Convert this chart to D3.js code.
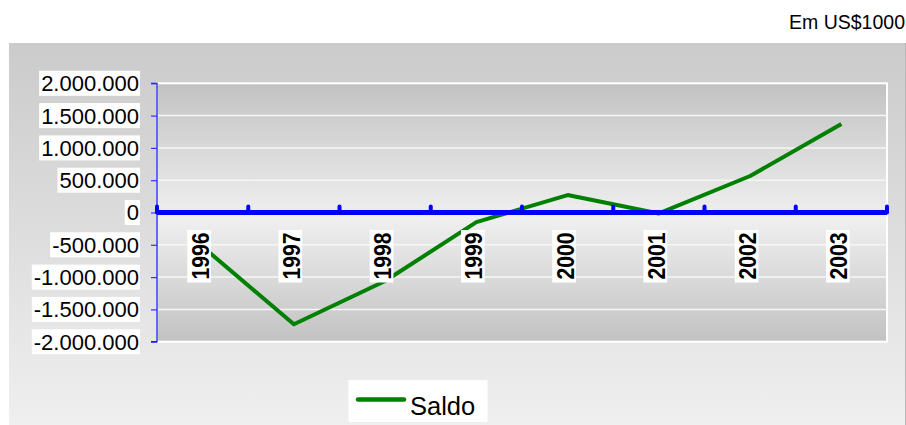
<!DOCTYPE html>
<html><head><meta charset="utf-8">
<script src="https://cdn.jsdelivr.net/npm/d3@7"></script>
<style>
html,body{margin:0;padding:0;background:#fff;}
svg{display:block;font-family:"Liberation Sans",Arial,sans-serif;}
</style></head>
<body><svg id="c" width="906" height="425"></svg>
<script>
const categories = ["1996","1997","1998","1999","2000","2001","2002","2003"];
const saldo = [-530000, -1730000, -1060000, -150000, 270000, -15000, 565000, 1370000];
const yTicks = [2000000, 1500000, 1000000, 500000, 0, -500000, -1000000, -1500000, -2000000];
const seriesName = "Saldo";
const unitNote = "Em US$1000";

const svg = d3.select("#c");
const defs = svg.append("defs");
const g1 = defs.append("linearGradient").attr("id","outerG").attr("x1",0).attr("y1",0).attr("x2",0).attr("y2",1);
g1.append("stop").attr("offset","0%").attr("stop-color","#cbcbcb");
g1.append("stop").attr("offset","100%").attr("stop-color","#f0f0f0");
const g2 = defs.append("linearGradient").attr("id","plotG").attr("x1",0).attr("y1",0).attr("x2",0).attr("y2",1);
g2.append("stop").attr("offset","0%").attr("stop-color","#c2c2c2");
g2.append("stop").attr("offset","52%").attr("stop-color","#f0f0f0");
g2.append("stop").attr("offset","100%").attr("stop-color","#c2c2c2");

// unit note
svg.append("text").attr("x",905).attr("y",29).attr("text-anchor","end")
  .attr("font-size",19.5).attr("fill","#000").text(unitNote);

// outer chart area
svg.append("rect").attr("x",9).attr("y",43).attr("width",897).attr("height",390).attr("fill","url(#outerG)");
svg.append("line").attr("x1",905.5).attr("x2",905.5).attr("y1",43).attr("y2",425).attr("stroke","#b8b8b8").attr("stroke-width",1);

const L = 157, R = 887, T = 83.3, B = 341.7;
const x = d3.scaleBand().domain(categories).range([L,R]).padding(0);
const y = d3.scaleLinear().domain([-2000000,2000000]).range([B,T]);

// plot area
svg.append("rect").attr("x",L).attr("y",T).attr("width",R-L).attr("height",B-T)
  .attr("fill","url(#plotG)").attr("stroke","#ffffff").attr("stroke-width",2);

// gridlines
svg.append("g").selectAll("line").data(yTicks.filter(d=>d!==2000000 && d!==-2000000 && d!==0)).join("line")
  .attr("x1",L).attr("x2",R).attr("y1",d=>y(d)).attr("y2",d=>y(d))
  .attr("stroke","#f6f6f6").attr("stroke-width",1.5);

// y axis
const loc = d3.formatLocale({decimal:",", thousands:".", grouping:[3], currency:["",""], minus:"-"});
const fmt = loc.format(",");
const yAxis = svg.append("g").attr("transform",`translate(${L},0)`)
  .call(d3.axisLeft(y).tickValues(yTicks).tickFormat(fmt).tickSize(6).tickPadding(0));
yAxis.select(".domain").attr("stroke","#0000ff").attr("stroke-width",1.2).attr("d",`M-6,${T}H0V${B}H-6`);
yAxis.selectAll(".tick line").attr("stroke","#3333ff").attr("stroke-width",1.2);
yAxis.selectAll(".tick text").remove();
const yl = svg.append("g");
yTicks.forEach(v=>{
  const gg = yl.append("g");
  const t = gg.append("text").attr("x",139).attr("y",y(v)).attr("dy","0.36em")
    .attr("text-anchor","end").attr("font-size",22).attr("fill","#000").text(fmt(v));
  const bb = t.node().getBBox();
  gg.insert("rect","text").attr("x",bb.x-2).attr("y",y(v)-12.5).attr("width",bb.width+3).attr("height",25).attr("fill","#fff");
});

// data line
const line = d3.line().x((d,i)=>x(categories[i])+x.bandwidth()/2).y(d=>y(d));
svg.append("path").datum(saldo).attr("d",line).attr("fill","none")
  .attr("stroke","#008000").attr("stroke-width",4).attr("stroke-linejoin","round");

// x axis (at zero)
const y0 = y(0);
const xb = svg.append("g");
xb.append("line").attr("x1",L).attr("x2",R).attr("y1",y0).attr("y2",y0)
  .attr("stroke","#0000ff").attr("stroke-width",5);
const bounds = categories.map(c=>x(c)).concat([R]);
xb.selectAll("line.tk").data(bounds).join("line").attr("class","tk")
  .attr("x1",d=>d).attr("x2",d=>d).attr("y1",y0).attr("y2",y0-6)
  .attr("stroke","#0000ff").attr("stroke-width",4).attr("stroke-linecap","round");

// x labels (rotated)
categories.forEach(c=>{
  const cx = x(c)+x.bandwidth()/2 - 2.2;
  const gg = svg.append("g").attr("transform",`translate(${cx},232.5) rotate(-90)`);
  gg.append("rect").attr("x",-50).attr("y",-13.2).attr("width",52.5).attr("height",23.7).attr("fill","#fff");
  gg.append("text").attr("x",0).attr("y",0).attr("dy","0.36em")
    .attr("text-anchor","end").attr("font-size",23).attr("font-weight","bold").attr("fill","#000")
    .attr("textLength",47).attr("lengthAdjust","spacingAndGlyphs").text(c);
});

// legend
const lg = svg.append("g");
lg.append("rect").attr("x",348.5).attr("y",380).attr("width",139).attr("height",42).attr("fill","#fff");
lg.append("line").attr("x1",358).attr("x2",404).attr("y1",399.5).attr("y2",399.5)
  .attr("stroke","#008000").attr("stroke-width",4.5).attr("stroke-linecap","round");
lg.append("text").attr("x",410).attr("y",415).attr("font-size",25.5).attr("fill","#000").text(seriesName);
</script></body></html>
